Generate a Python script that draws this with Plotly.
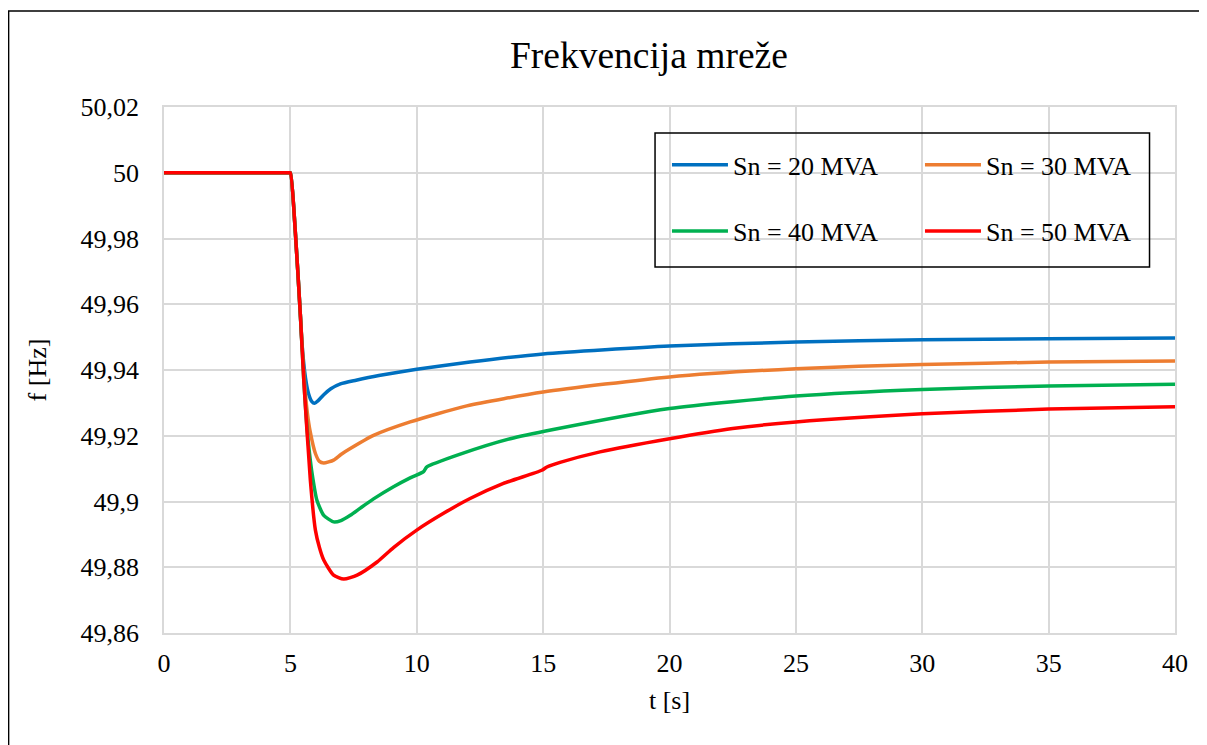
import plotly.graph_objects as go

# Frequency response data (time in s, frequency in Hz)
t_20 = [0, 4.95, 5.0, 5.2, 5.4, 5.46, 5.6, 5.72, 5.85, 5.95, 6.1, 6.32, 6.6, 6.98, 7.6, 8.5, 10.0, 12.11, 15.0,
        20.0, 25.0, 30.0, 35.0, 40.0]
f_20 = [50, 50, 50, 49.9815, 49.9561, 49.948, 49.9375, 49.9328, 49.9304, 49.9299, 49.9307, 49.9325, 49.9343,
        49.9358, 49.9369, 49.9383, 49.9402, 49.9424, 49.9449, 49.9473, 49.9485, 49.9492, 49.9495, 49.9497]

t_30 = [0, 4.95, 5.0, 5.2, 5.4, 5.55, 5.67, 5.79, 5.99, 6.15, 6.32, 6.71, 7.0, 7.37, 8.29, 9.74, 11.98, 15.0,
        20.0, 25.0, 30.0, 35.0, 40.0]
f_30 = [50, 50, 50, 49.9815, 49.9561, 49.937, 49.927, 49.9210, 49.9146, 49.9122, 49.9117, 49.9126, 49.9143,
        49.9161, 49.9201, 49.9242, 49.9291, 49.9333, 49.9379, 49.9404, 49.9417, 49.9424, 49.9427]

t_40 = [0, 4.95, 5.0, 5.2, 5.4, 5.53, 5.66, 5.76, 5.86, 6.05, 6.32, 6.71, 7.0, 7.37, 7.77, 8.29, 9.08, 9.74,
        10.27, 10.40, 11.72, 13.7, 15.4, 20.0, 25.0, 30.0, 35.0, 40.0]
f_40 = [50, 50, 50, 49.9815, 49.9561, 49.937, 49.922, 49.9145, 49.9085, 49.9004, 49.8958, 49.8938, 49.8942,
        49.8958, 49.8980, 49.9008, 49.9045, 49.9072, 49.9091, 49.9105, 49.9144, 49.9191, 49.9219, 49.9283,
        49.9321, 49.9341, 49.9351, 49.9357]

t_50 = [0, 4.95, 5.0, 5.2, 5.4, 5.53, 5.79, 5.99, 6.15, 6.32, 6.71, 7.11, 7.64, 8.43, 9.08, 10.0, 11.06, 12.11,
        13.43, 14.95, 15.15, 15.67, 17.25, 20.0, 22.5, 25.0, 30.0, 35.0, 40.0]
f_50 = [50, 50, 50, 49.9815, 49.9561, 49.937, 49.9065, 49.8913, 49.8860, 49.8822, 49.8776, 49.8764, 49.8776,
        49.8816, 49.8860, 49.8913, 49.8964, 49.9009, 49.9055, 49.9095, 49.9105, 49.9119, 49.9151, 49.9191,
        49.9222, 49.9242, 49.9267, 49.9281, 49.9288]

series = [
    ("Sn = 20 MVA", t_20, f_20, "#0070C0", "legend"),
    ("Sn = 30 MVA", t_30, f_30, "#ED7D31", "legend"),
    ("Sn = 40 MVA", t_40, f_40, "#00B050", "legend2"),
    ("Sn = 50 MVA", t_50, f_50, "#FF0000", "legend2"),
]

FONT = "Liberation Serif"
GRID = "#d9d9d9"

fig = go.Figure()
for name, t, f, color, leg in series:
    fig.add_trace(go.Scatter(
        x=t, y=f, mode="lines", name=name, legend=leg,
        line=dict(color=color, width=3.5, shape="spline", smoothing=0.6),
    ))

legend_common = dict(
    orientation="h", xanchor="left", yanchor="middle",
    bgcolor="rgba(0,0,0,0)", font=dict(family=FONT, size=26, color="black"),
    entrywidth=182, itemwidth=56,
)

# page body adds an 8px offset, margins compensate for it
fig.update_layout(
    template="none",
    width=1207, height=745,
    paper_bgcolor="white", plot_bgcolor="white",
    margin=dict(l=155.5, r=39.5, t=99, b=120, autoexpand=False),
    separators=",.",
    font=dict(family=FONT, size=26, color="black"),
    title=dict(text="Frekvencija mreže", x=0.531, xref="container", xanchor="center",
               y=1 - 47 / 745, yanchor="middle", font=dict(family=FONT, size=37.5, color="black")),
    xaxis=dict(
        range=[0, 40], dtick=5, showgrid=True, gridcolor=GRID, gridwidth=1.5,
        showline=True, linecolor=GRID, linewidth=1.5, mirror=True, zeroline=False,
        ticks="", ticklabelstandoff=6, automargin=False,
        title=dict(text="t [s]", standoff=14, font=dict(family=FONT, size=26)),
    ),
    yaxis=dict(
        range=[49.86, 50.02], dtick=0.02, showgrid=True, gridcolor=GRID, gridwidth=1.5,
        showline=True, linecolor=GRID, linewidth=1.5, mirror=True, zeroline=False,
        ticks="", ticklabelstandoff=18, automargin=False,
        title=dict(text="f [Hz]", standoff=26, font=dict(family=FONT, size=26)),
    ),
    legend=dict(x=0.4975, y=0.8898, **legend_common),
    legend2=dict(x=0.4975, y=0.7643, **legend_common),
    shapes=[
        # legend box
        dict(type="rect", xref="paper", yref="paper", x0=0.4857, x1=0.9748, y0=0.6958, y1=0.9506,
             line=dict(color="black", width=1.5)),
        # outer chart border
        dict(type="rect", xref="paper", yref="paper", x0=-0.1537, x1=1.0291, y0=-0.3, y1=1.1825,
             line=dict(color="black", width=1.5)),
    ],
    showlegend=True,
)

fig.write_html("out.html")
